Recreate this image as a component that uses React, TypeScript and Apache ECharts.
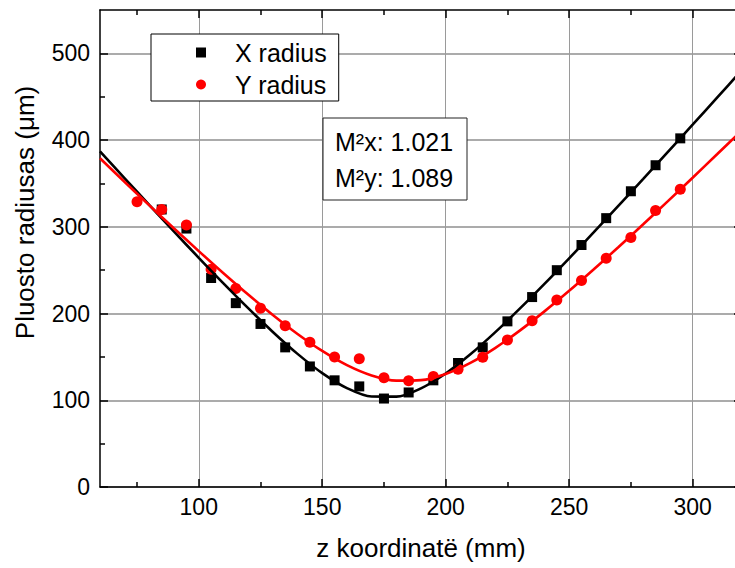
import React, { useEffect, useRef } from "react";
import * as echarts from "echarts";

// measured points
const zPoints = [75, 85, 95, 105, 115, 125, 135, 145, 155, 165, 175, 185, 195, 205, 215, 225, 235, 245, 255, 265, 275, 285, 295];
const xRadius = [null, 320, 298, 241, 212, 188, 161, 139, 123, 116, 102, 109, 123, 143, 161, 191, 219, 250, 279, 310, 341, 371, 402];
const yRadius = [329, 320, 302, 251, 229, 206, 186, 167, 150, 148, 126, 122.5, 127.5, 135.7, 149.6, 169.6, 191.8, 215.7, 238, 263.8, 287.6, 318.7, 343.4];

// fitted curves
const zFit = [60, 70, 80, 90, 100, 110, 120, 130, 140, 150, 160, 170, 180, 190, 200, 210, 220, 230, 240, 250, 260, 270, 280, 290, 300, 310, 320];
const xFit = [387, 355.9, 325.0, 294.4, 264.3, 234.8, 206.2, 178.8, 153.5, 131.3, 114.0, 104.3, 104.2, 113.8, 130.9, 153.0, 178.3, 205.6, 234.2, 263.7, 293.8, 324.4, 355.3, 386.4, 417.7, 449.2, 480.8];
const yFit = [379, 351.7, 324.7, 298.1, 272.0, 246.5, 221.9, 198.4, 176.5, 156.9, 140.5, 128.6, 122.6, 123.2, 130.4, 143.1, 160.2, 180.3, 202.5, 226.2, 251.1, 276.7, 302.9, 329.6, 356.6, 383.9, 411.4];

// ticks
const xTickLabels = [100, 150, 200, 250, 300];
const xMinorTicks = [75, 125, 175, 225, 275];
const yTickLabels = [0, 100, 200, 300, 400, 500];
const yMinorTicks = [50, 150, 250, 350, 450];

const seriesNames = ["X radius", "Y radius"];
const annotations = ["M²x: 1.021", "M²y: 1.089"];
const xTitle = "z koordinatë (mm)";
const yTitle = "Pluosto radiusas (μm)";

const FONT = "'Liberation Sans', Arial, sans-serif";
const X_MIN = 60, X_MAX = 320, Y_MIN = 0, Y_MAX = 550;

export default function App() {
  const ref = useRef<HTMLDivElement>(null);
  useEffect(() => {
    if (!ref.current) return;
    const chart = echarts.init(ref.current, null, { renderer: "svg" });
    const lineStyle = { color: "#000", width: 1.5 };
    const gridLineX = { show: true, lineStyle: { color: "#9a9a9a", width: 1 } };
    const gridLineY = { show: true, lineStyle: { color: "#ababab", width: 2 } };

    const xAxisBase = (position: string, ticks: number[], len: number, main: boolean, labels: boolean) => ({
      type: "value",
      position,
      min: X_MIN,
      max: X_MAX,
      splitNumber: 5,
      z: 0,
      axisLine: { show: main, lineStyle, onZero: false },
      axisTick: { show: true, inside: true, length: len, customValues: ticks, lineStyle },
      axisLabel: labels
        ? { show: true, customValues: xTickLabels, fontSize: 23, fontFamily: FONT, color: "#000", margin: 8 }
        : { show: false },
      splitLine: labels ? gridLineX : { show: false },
    });
    const yAxisBase = (position: string, ticks: number[], len: number, main: boolean, labels: boolean) => ({
      type: "value",
      position,
      min: Y_MIN,
      max: Y_MAX,
      splitNumber: 5,
      z: 0,
      axisLine: { show: main, lineStyle, onZero: false },
      axisTick: { show: true, inside: true, length: len, customValues: ticks, lineStyle },
      axisLabel: labels
        ? { show: true, customValues: yTickLabels, fontSize: 23, fontFamily: FONT, color: "#000", margin: 10 }
        : { show: false },
      splitLine: labels ? gridLineY : { show: false },
    });

    const xMain: any = xAxisBase("bottom", xTickLabels, 8, true, true);
    xMain.name = xTitle;
    xMain.nameLocation = "middle";
    xMain.nameGap = 48;
    xMain.nameMoveOverlap = false;
    xMain.nameTextStyle = { fontSize: 26, fontFamily: FONT, color: "#000" };

    const yMain: any = yAxisBase("left", yTickLabels, 8, true, true);
    yMain.name = yTitle;
    yMain.nameLocation = "middle";
    yMain.nameGap = 62;
    yMain.nameMoveOverlap = false;
    yMain.nameTextStyle = { fontSize: 26, fontFamily: FONT, color: "#000", padding: [0, 0, 0, 72] };

    const option: any = {
      animation: false,
      backgroundColor: "#fff",
      grid: { left: 100, top: 10, right: -7, bottom: 81, containLabel: false, outerBoundsMode: "none" },
      xAxis: [
        xMain,
        xAxisBase("bottom", xMinorTicks, 5, false, false),
        xAxisBase("top", xTickLabels, 8, true, false),
        xAxisBase("top", xMinorTicks, 5, false, false),
      ],
      yAxis: [
        yMain,
        yAxisBase("left", yMinorTicks, 5, false, false),
        yAxisBase("right", yTickLabels, 8, true, false),
        yAxisBase("right", yMinorTicks, 5, false, false),
      ],
      legend: {
        orient: "vertical",
        left: 151,
        top: 34,
        z: 20,
        padding: [6, 12, 4, 45],
        itemGap: 7,
        itemWidth: 10,
        itemHeight: 10,
        borderColor: "#000",
        borderWidth: 1,
        backgroundColor: "#fff",
        selectedMode: false,
        textStyle: { fontSize: 25, fontFamily: FONT, color: "#000", lineHeight: 24, padding: [0, 0, 0, 24] },
        data: [
          { name: seriesNames[0], icon: "rect" },
          { name: seriesNames[1], icon: "circle" },
        ],
      },
      graphic: [
        {
          type: "group",
          z: 20,
          children: [
            { type: "rect", z: 20, shape: { x: 323, y: 118, width: 144, height: 82 }, style: { fill: "#fff", stroke: "#222", lineWidth: 1 } },
            { type: "text", z: 21, x: 335, y: 142, style: { text: annotations[0], fontSize: 25, fontFamily: FONT, fill: "#000", verticalAlign: "middle" } },
            { type: "text", z: 21, x: 335, y: 178, style: { text: annotations[1], fontSize: 25, fontFamily: FONT, fill: "#000", verticalAlign: "middle" } },
          ],
        },
      ],
      series: [
        {
          name: "X fit",
          type: "line",
          xAxisIndex: 0,
          yAxisIndex: 0,
          data: zFit.map((z, i) => [z, xFit[i]]),
          showSymbol: false,
          smooth: 0.3,
          silent: true,
          lineStyle: { color: "#000", width: 2.6 },
          itemStyle: { color: "#000" },
        },
        {
          name: "Y fit",
          type: "line",
          xAxisIndex: 0,
          yAxisIndex: 0,
          data: zFit.map((z, i) => [z, yFit[i]]),
          showSymbol: false,
          smooth: 0.3,
          silent: true,
          lineStyle: { color: "#ff0000", width: 2.6 },
          itemStyle: { color: "#ff0000" },
        },
        {
          name: seriesNames[0],
          type: "scatter",
          xAxisIndex: 0,
          yAxisIndex: 0,
          symbol: "rect",
          symbolSize: 10,
          itemStyle: { color: "#000", opacity: 1 },
          data: zPoints.map((z, i) => [z, xRadius[i]]).filter((d) => d[1] !== null),
        },
        {
          name: seriesNames[1],
          type: "scatter",
          xAxisIndex: 0,
          yAxisIndex: 0,
          symbol: "circle",
          symbolSize: 11,
          itemStyle: { color: "#ff0000", opacity: 1 },
          data: zPoints.map((z, i) => [z, yRadius[i]]),
        },
      ],
    };
    chart.setOption(option);
    return () => chart.dispose();
  }, []);
  return (
    <div
      ref={ref}
      style={{ position: "fixed", left: 0, top: 0, width: 735, height: 568, background: "#fff" }}
    />
  );
}
